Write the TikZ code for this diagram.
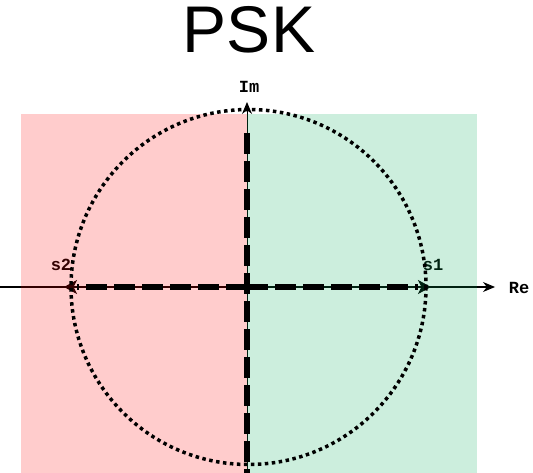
\documentclass[tikz,border=0pt]{standalone}
\usepackage{fontspec}
\setmainfont{Liberation Sans}
\newfontfamily\monob{Liberation Mono}
\usetikzlibrary{arrows.meta}
\definecolor{redov}{RGB}{255,0,0}
\definecolor{greenov}{RGB}{0,170,85}
\tikzset{
  lbl/.style={font=\monob\bfseries\fontsize{17}{19}\selectfont, inner sep=0pt},
  axis/.style={line width=1pt, -{Stealth[length=12pt,width=10pt]}},
  thinarr/.style={line width=1pt, -{Stealth[length=13pt,width=14pt,inset=3.5pt,line width=0.8pt]}},
  thickdash/.style={line width=6.5pt, dash pattern=on 21pt off 7pt},
  dotcirc/.style={line width=3.5pt, dash pattern=on 3.5pt off 3.5pt},
}
\begin{document}
\begin{tikzpicture}[x=1pt,y=-1pt]
\useasboundingbox (0,0) rectangle (533,473);
\node[font=\fontsize{66}{70}\selectfont, inner sep=0pt] (title) at (249,30) {PSK};
\coordinate (O) at (247,287);
\coordinate (C) at (248.5,287);
\coordinate (L) at (0,287);
\coordinate (R) at (495,287);
\coordinate (B) at (247,473);
\coordinate (T) at (247,102);
\coordinate (S1) at (431,287);
\coordinate (S2) at (64,287);
\coordinate (S1e) at (418,287);
\coordinate (S2e) at (77,287);
\coordinate (CT) at (247,133);
% axes
\draw[axis] (L) -- (R);
\draw[axis] (B) -- (T);
% thin signal arrows
\draw[thinarr] (O) -- (S1);
\draw[thinarr] (O) -- (S2);
% labels
\node[lbl] (im) at (249,87) {Im};
\node[lbl] (re) at (519,288) {Re};
\node[lbl] (s1) at (433,265) {s1};
\node[lbl] (s2) at (61,265) {s2};
% overlays
\fill[redov, fill opacity=0.2] (21,114) rectangle (247,473);
\fill[greenov, fill opacity=0.2] (247,114) rectangle (477,473);
% circle
\draw[dotcirc] (C) circle[radius=177.5];
% thick dashed
\draw[thickdash] (O) -- (S1e);
\draw[thickdash] (O) -- (S2e);
\draw[thickdash] (CT) -- (B);
\end{tikzpicture}
\end{document}
